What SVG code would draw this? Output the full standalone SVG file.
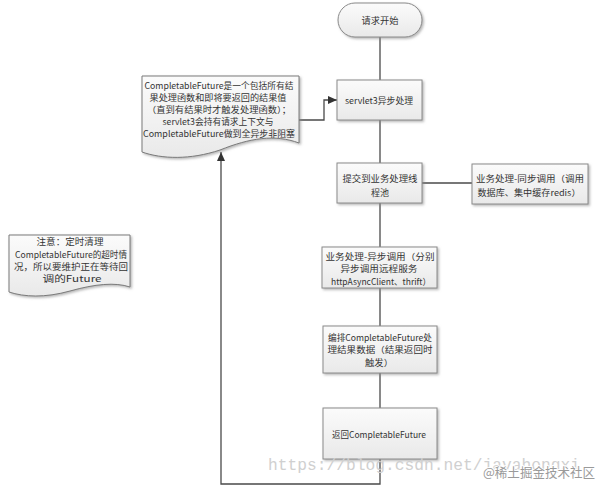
<svg xmlns="http://www.w3.org/2000/svg" width="600" height="488" viewBox="0 0 600 488">
<style>
.box{fill:url(#g);stroke:#8a8a8a;stroke-width:1;filter:url(#sh)}
.doc{fill:url(#g);stroke:#7a7a7a;stroke-width:1;filter:url(#sh)}
.t{font-family:"Noto Sans CJK SC","Liberation Sans",sans-serif;font-size:8.6px;fill:#333;text-anchor:middle;dominant-baseline:central}
.c{fill:none;stroke:#4a4a4a;stroke-width:1.3}
.wm1{font-family:"Liberation Mono",monospace;font-size:16.5px;fill:#d0d0d0}
.wm2{font-family:"Noto Sans CJK SC",sans-serif;font-size:13px;fill:#9a9a9a;stroke:#fff;stroke-width:2;paint-order:stroke}
</style>
<defs>
<linearGradient id="g" x1="0" y1="0" x2="0" y2="1">
<stop offset="0" stop-color="#fbfbfb"/>
<stop offset="1" stop-color="#e9e9e9"/>
</linearGradient>
<filter id="sh" x="-10%" y="-10%" width="130%" height="130%">
<feDropShadow dx="1.5" dy="1.5" stdDeviation="1" flood-color="#888" flood-opacity="0.6"/>
</filter>
<marker id="ar" markerUnits="userSpaceOnUse" markerWidth="10" markerHeight="10" viewBox="0 0 10 10" refX="9" refY="5" orient="auto">
<path d="M0,1 L9,5 L0,9 Z" fill="#333"/>
</marker>
</defs>
<rect width="600" height="488" fill="#fff"/>
<g id="connectors">
<line class="c" x1="380" y1="37" x2="380" y2="80"/>
<line class="c" x1="380" y1="120" x2="380" y2="163"/>
<line class="c" x1="422" y1="183" x2="472" y2="183"/>
<line class="c" x1="380" y1="203" x2="380" y2="247"/>
<line class="c" x1="380" y1="288" x2="380" y2="326"/>
<line class="c" x1="380" y1="373" x2="380" y2="408"/>
<polyline class="c" points="380,459 380,484 221,484 221,152" marker-end="url(#ar)"/>
<polyline class="c" points="299,120 324,120 324,100 337,100" marker-end="url(#ar)"/>
</g>
<g id="start">
<rect class="box" x="338" y="3" width="84" height="34" rx="17"/>
<text class="t" x="380" y="20" textLength="37" lengthAdjust="spacingAndGlyphs">请求开始</text>
</g>
<g id="servlet">
<rect class="box" x="337" y="80" width="85" height="40"/>
<text class="t" x="379" y="100" textLength="68" lengthAdjust="spacingAndGlyphs">servlet3异步处理</text>
</g>
<g id="submit">
<rect class="box" x="337" y="163" width="85" height="40"/>
<text class="t" x="380" y="178" textLength="75" lengthAdjust="spacingAndGlyphs">提交到业务处理线</text>
<text class="t" x="380" y="192" textLength="18" lengthAdjust="spacingAndGlyphs">程池</text>
</g>
<g id="sync">
<rect class="box" x="472" y="164" width="116" height="40"/>
<text class="t" x="530" y="178" textLength="108" lengthAdjust="spacingAndGlyphs">业务处理-同步调用（调用</text>
<text class="t" x="529" y="192" textLength="103" lengthAdjust="spacingAndGlyphs">数据库、集中缓存redis）</text>
</g>
<g id="async">
<rect class="box" x="322" y="247" width="115" height="41"/>
<text class="t" x="380" y="256" textLength="109" lengthAdjust="spacingAndGlyphs">业务处理-异步调用（分别</text>
<text class="t" x="379" y="268" textLength="77" lengthAdjust="spacingAndGlyphs">异步调用远程服务</text>
<text class="t" x="381" y="281" textLength="100" lengthAdjust="spacingAndGlyphs">httpAsyncClient、thrift）</text>
</g>
<g id="compose">
<rect class="box" x="323" y="326" width="114" height="47"/>
<text class="t" x="380" y="337" textLength="104" lengthAdjust="spacingAndGlyphs">编排CompletableFuture处</text>
<text class="t" x="380" y="349" textLength="105" lengthAdjust="spacingAndGlyphs">理结果数据（结果返回时</text>
<text class="t" x="379" y="362" textLength="28" lengthAdjust="spacingAndGlyphs">触发）</text>
</g>
<g id="return">
<rect class="box" x="323" y="408" width="114" height="51"/>
<text class="t" x="379" y="434" textLength="94" lengthAdjust="spacingAndGlyphs">返回CompletableFuture</text>
</g>
<g id="note-main">
<path class="doc" d="M142,76 H299 V143 C275,134 250,138 220,150 C190,160 162,159 142,152 Z"/>
<text class="t" x="219" y="85" textLength="149" lengthAdjust="spacingAndGlyphs">CompletableFuture是一个包括所有结</text>
<text class="t" x="218" y="97" textLength="137" lengthAdjust="spacingAndGlyphs">果处理函数和即将要返回的结果值</text>
<text class="t" x="219" y="109" textLength="144" lengthAdjust="spacingAndGlyphs">（直到有结果时才触发处理函数）；</text>
<text class="t" x="218" y="121" textLength="111" lengthAdjust="spacingAndGlyphs">servlet3会持有请求上下文与</text>
<text class="t" x="219" y="133" textLength="152" lengthAdjust="spacingAndGlyphs">CompletableFuture做到全异步非阻塞</text>
</g>
<g id="note-timeout">
<path class="doc" d="M9,235 H130 V287 C115,282 95,284 70,291 C45,298 24,297 9,292 Z"/>
<text class="t" x="70" y="241" textLength="67" lengthAdjust="spacingAndGlyphs">注意：定时清理</text>
<text class="t" x="71" y="254" textLength="112" lengthAdjust="spacingAndGlyphs">CompletableFuture的超时情</text>
<text class="t" x="71" y="266" textLength="114" lengthAdjust="spacingAndGlyphs">况，所以要维护正在等待回</text>
<text class="t" x="72" y="278" textLength="59" lengthAdjust="spacingAndGlyphs">调的Future</text>
</g>
<text class="wm1" x="268" y="470" textLength="312" lengthAdjust="spacingAndGlyphs">https://blog.csdn.net/javahongxi</text>
<text class="wm2" x="483" y="477" textLength="112" lengthAdjust="spacingAndGlyphs">@稀土掘金技术社区</text>
</svg>
